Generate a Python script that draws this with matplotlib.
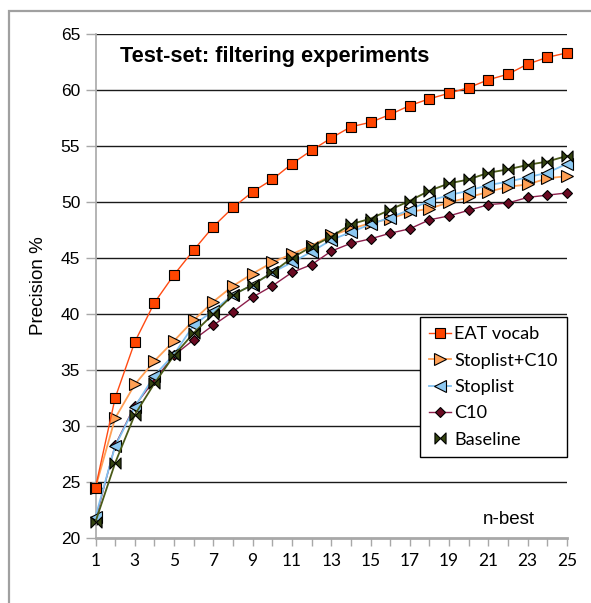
import numpy as np
import matplotlib
matplotlib.use("Agg")
import matplotlib.pyplot as plt
from matplotlib.path import Path
from matplotlib.lines import Line2D
from matplotlib.patches import Rectangle

# ----------------------------------------------------------------------
# Data
# ----------------------------------------------------------------------
n_best = list(range(1, 26))

eat_vocab = [24.5, 32.5, 37.5, 41.0, 43.5, 45.7, 47.8, 49.5, 50.9, 52.0,
             53.4, 54.6, 55.7, 56.7, 57.1, 57.8, 58.6, 59.2, 59.7, 60.2,
             60.9, 61.4, 62.3, 62.9, 63.3]
stoplist_c10 = [24.5, 30.7, 33.7, 35.8, 37.6, 39.45, 41.1, 42.5, 43.6, 44.6,
                45.35, 46.1, 47.0, 47.6, 48.1, 48.5, 49.1, 49.4, 49.95, 50.4,
                50.9, 51.35, 51.55, 52.1, 52.3]
stoplist = [21.9, 28.2, 31.7, 34.5, 36.4, 39.0, 40.3, 41.7, 42.6, 43.7,
            44.6, 45.55, 46.6, 47.3, 48.0, 48.6, 49.3, 50.1, 50.6, 51.0,
            51.5, 51.8, 52.2, 52.6, 53.4]
c10 = [21.65, 28.3, 31.8, 34.1, 36.3, 37.7, 39.0, 40.2, 41.5, 42.5,
       43.7, 44.4, 45.6, 46.3, 46.7, 47.2, 47.6, 48.4, 48.75, 49.25,
       49.75, 49.9, 50.4, 50.6, 50.8]
baseline = [21.45, 26.7, 31.0, 33.8, 36.3, 38.3, 40.0, 41.7, 42.6, 43.7,
            45.0, 46.0, 46.9, 48.0, 48.5, 49.3, 50.1, 51.0, 51.65, 52.0,
            52.6, 52.9, 53.3, 53.6, 54.1]

labels = ["EAT vocab", "Stoplist+C10", "Stoplist", "C10", "Baseline"]
y_ticks = list(range(20, 70, 5))

# bowtie marker: two triangles meeting in the middle
bowtie = Path([(-1, 1), (-1, -1), (0, 0), (-1, 1),
               (1, 1), (1, -1), (0, 0), (1, 1)],
              [Path.MOVETO, Path.LINETO, Path.LINETO, Path.CLOSEPOLY,
               Path.MOVETO, Path.LINETO, Path.LINETO, Path.CLOSEPOLY])

styles = [
    dict(color="#ff4a12", marker="s", mfc="#ff4500", ms=7.2, lw=1.0),
    dict(color="#ff9f55", marker=">", mfc="#ffa055", ms=8.5, lw=1.3),
    dict(color="#80c0f0", marker="<", mfc="#8cc8f2", ms=8.5, lw=1.3),
    dict(color="#8c1f4c", marker="D", mfc="#6a0a22", ms=5.5, lw=1.0),
    dict(color="#4a5a18", marker=bowtie, mfc="#344410", ms=8.0, lw=1.3),
]
series = [eat_vocab, stoplist_c10, stoplist, c10, baseline]

# ----------------------------------------------------------------------
# Plot
# ----------------------------------------------------------------------
fig = plt.figure(figsize=(5.91, 6.03), dpi=100)
fig.patches.append(Rectangle((8.5 / 591, -0.1), 1.2, 1.0 - 11.5 / 603 + 0.1,
                             transform=fig.transFigure, fill=False,
                             edgecolor="#a0a0a0", lw=1.6))

ax = fig.add_axes([95.5 / 591, 1 - 538 / 603, 471.5 / 591, 504.2 / 603])

zs = [5, 3, 4, 2, 6]
for ys, st, lab, z in zip(series, styles, labels, zs):
    ax.plot(n_best, ys, mec="black", mew=0.8, label=lab, zorder=z,
            clip_on=False, **st)

ax.set_xlim(1, 25)
ax.set_ylim(20, 65)
ax.set_yticks(y_ticks)
for y in y_ticks[1:]:
    ax.axhline(y, color="#1a1a1a", lw=1.0, zorder=1)

ax.set_xticks(n_best)
ax.set_xticklabels([str(i) if i % 2 else "" for i in n_best],
                   fontfamily="Lato", fontsize=12.5)
ax.tick_params(axis="x", direction="out", length=6, width=1.0,
               color="#a8a8a8", pad=5)
ax.tick_params(axis="y", direction="out", length=7, width=1.0,
               color="#a8a8a8", pad=4, labelsize=12.5)
for t in ax.get_yticklabels():
    t.set_fontfamily("Liberation Sans")

for s in ["top", "right"]:
    ax.spines[s].set_visible(False)
ax.spines["left"].set_color("#a8a8a8")
ax.spines["left"].set_linewidth(1.2)
ax.spines["bottom"].set_color("#a8a8a8")
ax.spines["bottom"].set_linewidth(2.0)

ax.set_ylabel("Precision %", fontfamily="Liberation Sans", fontsize=13.5)
ax.yaxis.set_label_coords(-0.103, 0.5)

ax.text(120, 603 - 56.5, "Test-set: filtering experiments", transform=None,
        fontfamily="Liberation Sans", fontweight="bold", fontsize=15.7,
        va="center", ha="left")
ax.text(0.877, 0.036, "n-best", transform=ax.transAxes,
        fontfamily="Liberation Sans", fontsize=13.5, ha="center", va="center")

# legend (baseline shown without its line)
handles, _ = ax.get_legend_handles_labels()
h_base = Line2D([], [], ls="none", marker=bowtie, mfc=styles[4]["mfc"],
                mec="black", mew=0.8, ms=8.0)
handles = handles[:4] + [h_base]
leg = ax.legend(handles, labels, loc="upper right", bbox_to_anchor=(1.0, 0.438),
                borderaxespad=0, fancybox=False, framealpha=1,
                edgecolor="black", handlelength=1.17, handletextpad=0.2,
                labelspacing=0.57, borderpad=0.5,
                prop={"family": "Lato", "size": 13.1})
leg.get_frame().set_linewidth(1.0)
leg.set_zorder(10)

fig.savefig("out.png", dpi=100)
